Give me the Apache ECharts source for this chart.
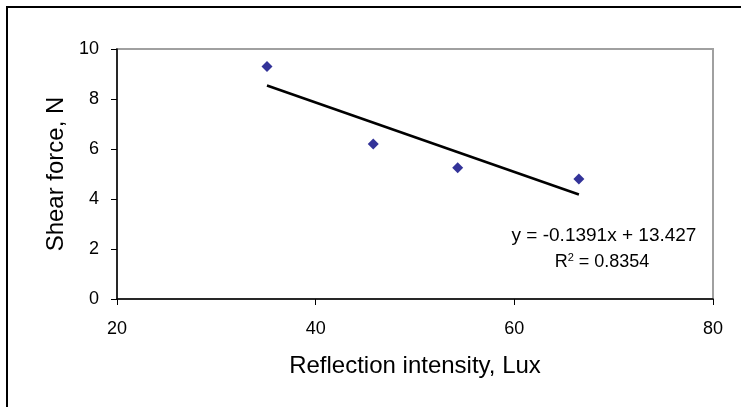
<!DOCTYPE html>
<html>
<head>
<meta charset="utf-8">
<script src="https://cdn.jsdelivr.net/npm/echarts@6/dist/echarts.min.js"></script>
<style>
html,body{margin:0;padding:0;background:#fff;}
#c{width:741px;height:407px;}
</style>
</head>
<body>
<div id="c"></div>
<script>
// Data
var reflection = [35.1, 45.8, 54.3, 66.5];
var shearForce = [9.3, 6.2, 5.25, 4.8];
// Linear trendline endpoints (y = -0.1391x + 13.427), read at the ends of the drawn line
var trendX = [35.1, 66.5];
var trendY = [8.54, 4.18];
var xTicks = [20, 40, 60, 80];
var yTicks = [0, 2, 4, 6, 8, 10];
var equationText = 'y = -0.1391x + 13.427';
var r2Value = '0.8354';

var chart = echarts.init(document.getElementById('c'));
var font = 'Arial, "Liberation Sans", sans-serif';
chart.setOption({
  animation: false,
  backgroundColor: '#fff',
  grid: {
    left: 117, top: 49, width: 596, height: 250,
    show: true, borderColor: '#a0a0a0', borderWidth: 2, backgroundColor: '#fff'
  },
  xAxis: {
    type: 'value', min: xTicks[0], max: xTicks[xTicks.length - 1], interval: 20,
    name: 'Reflection intensity, Lux', nameLocation: 'middle', nameGap: 55,
    nameTextStyle: { fontFamily: font, fontSize: 24, color: '#000' },
    axisLine: { show: true, onZero: false, lineStyle: { color: '#000', width: 1.5 } },
    axisTick: { show: true, inside: false, length: 6, lineStyle: { color: '#000' } },
    axisLabel: { fontFamily: font, fontSize: 18, color: '#000', margin: 21 },
    splitLine: { show: false }
  },
  yAxis: {
    type: 'value', min: yTicks[0], max: yTicks[yTicks.length - 1], interval: 2,
    name: 'Shear force, N', nameLocation: 'middle', nameGap: 48,
    nameTextStyle: { fontFamily: font, fontSize: 24, color: '#000' },
    axisLine: { show: true, onZero: false, lineStyle: { color: '#000', width: 1.5 } },
    axisTick: { show: true, inside: false, length: 6, lineStyle: { color: '#000' } },
    axisLabel: { fontFamily: font, fontSize: 18, color: '#000', margin: 18 },
    splitLine: { show: false }
  },
  series: [
    {
      type: 'line',
      data: trendX.map(function (x, i) { return [x, trendY[i]]; }),
      showSymbol: false, symbol: 'none',
      lineStyle: { color: '#000', width: 2.5 },
      z: 2
    },
    {
      type: 'scatter',
      data: reflection.map(function (x, i) { return [x, shearForce[i]]; }),
      symbol: 'diamond', symbolSize: 11,
      itemStyle: { color: '#000080' },
      z: 3
    }
  ],
  graphic: [
    { type: 'line', shape: { x1: 6, y1: 7, x2: 741, y2: 7 }, style: { stroke: '#000', lineWidth: 2 } },
    { type: 'line', shape: { x1: 7, y1: 6, x2: 7, y2: 407 }, style: { stroke: '#000', lineWidth: 2 } },
    {
      type: 'text', x: 604, y: 236,
      style: { text: equationText, font: '19px ' + font, fill: '#000', align: 'center', verticalAlign: 'middle' }
    },
    {
      type: 'text', x: 602, y: 262,
      style: {
        text: 'R{sup|2} = ' + r2Value,
        font: '18px ' + font, fill: '#000', align: 'center', verticalAlign: 'middle',
        rich: { sup: { fontSize: 11, verticalAlign: 'top', padding: [0, 0, 8, 0], fontFamily: font } }
      }
    }
  ]
});
</script>
</body>
</html>
